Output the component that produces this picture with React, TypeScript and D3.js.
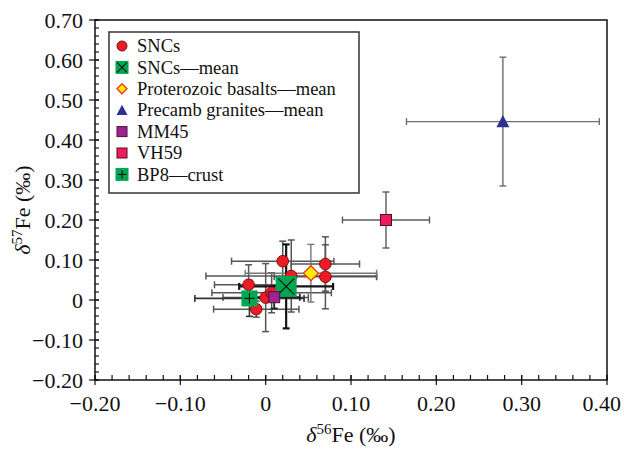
import React from "react";
import * as d3 from "d3";

// axis ticks
const xTicks = [-0.2, -0.1, 0, 0.1, 0.2, 0.3, 0.4];
const yTicks = [-0.2, -0.1, 0, 0.1, 0.2, 0.3, 0.4, 0.5, 0.6, 0.7];

// d56Fe (x), d57Fe (y), with 2 sigma errors (ex, ey)
const sncs = [
  { x: 0.02, y: 0.097, ex: 0.06, ey: 0.05 },
  { x: 0.07, y: 0.09, ex: 0.04, ey: 0.068 },
  { x: 0.07, y: 0.058, ex: 0.06, ey: 0.08 },
  { x: 0.03, y: 0.06, ex: 0.1, ey: 0.09 },
  { x: -0.02, y: 0.038, ex: 0.04, ey: 0.05 },
  { x: 0.0, y: 0.006, ex: 0.05, ey: 0.085 },
  { x: -0.011, y: -0.023, ex: 0.05, ey: 0.02 },
  { x: 0.007, y: 0.018, ex: 0.07, ey: 0.05 },
];
const sncMean = [{ x: 0.024, y: 0.034, ex: 0.055, ey: 0.105 }];
const proterozoic = [{ x: 0.053, y: 0.067, ex: 0.077, ey: 0.072 }];
const granites = [{ x: 0.278, y: 0.446, ex: 0.113, ey: 0.161 }];
const mm45 = [{ x: 0.01, y: 0.007, ex: 0.03, ey: 0.028 }];
const vh59 = [{ x: 0.141, y: 0.2, ex: 0.051, ey: 0.07 }];
const bp8 = [{ x: -0.019, y: 0.004, ex: 0.064, ey: 0.045 }];

const legendLabels = [
  "SNCs",
  "SNCs\u2014mean",
  "Proterozoic basalts\u2014mean",
  "Precamb granites\u2014mean",
  "MM45",
  "VH59",
  "BP8\u2014crust",
];
const legendKinds = ["circle", "xsquare", "diamond", "triangle", "mm45", "vh59", "plussquare"];

const width = 624;
const height = 450;
const left = 95;
const right = 607;
const top = 20;
const bottom = 380;
const font = '"Liberation Serif", "Times New Roman", Times, "DejaVu Serif", serif';

const fmt = (v) => {
  if (Math.abs(v) < 1e-9) return "0";
  return (v < 0 ? "\u2212" : "") + Math.abs(v).toFixed(2);
};

// one marker, drawn around 0,0
const Marker = ({ kind, cx, cy, big = false }) => {
  const t = `translate(${cx},${cy})`;
  if (kind === "circle") {
    const r = big ? 5.8 : 5;
    return <circle transform={t} r={r} fill="#ed1c24" stroke="#7a1010" strokeWidth={1} />;
  }
  if (kind === "xsquare") {
    const s = big ? 10.5 : 6.5;
    return (
      <g transform={t}>
        <rect x={-s} y={-s} width={2 * s} height={2 * s} fill="#00a651" />
        <line x1={-s * 0.75} y1={-s * 0.75} x2={s * 0.75} y2={s * 0.75} stroke="#111" strokeWidth={1.1} />
        <line x1={-s * 0.75} y1={s * 0.75} x2={s * 0.75} y2={-s * 0.75} stroke="#111" strokeWidth={1.1} />
      </g>
    );
  }
  if (kind === "diamond") {
    const s = big ? 7.5 : 5;
    return (
      <path transform={t} d={`M0,${-s}L${s},0L0,${s}L${-s},0Z`} fill="#ffed00" stroke="#f03a1e" strokeWidth={1.4} />
    );
  }
  if (kind === "triangle") {
    const s = big ? 6.5 : 5.5;
    return <path transform={t} d={`M0,${-s}L${s},${s * 0.85}L${-s},${s * 0.85}Z`} fill="#2e3192" />;
  }
  if (kind === "mm45") {
    const s = big ? 5.5 : 5;
    return <rect transform={t} x={-s} y={-s} width={2 * s} height={2 * s} fill="#a3238e" stroke="#4a1040" strokeWidth={1} />;
  }
  if (kind === "vh59") {
    const s = big ? 5.5 : 5;
    return <rect transform={t} x={-s} y={-s} width={2 * s} height={2 * s} fill="#ed1c5b" stroke="#5a0a20" strokeWidth={1} />;
  }
  // plus square
  const s = big ? 8 : 6.5;
  return (
    <g transform={t}>
      <rect x={-s} y={-s} width={2 * s} height={2 * s} fill="#00a651" />
      <line x1={-s * 0.65} y1={0} x2={s * 0.65} y2={0} stroke="#111" strokeWidth={1.1} />
      <line x1={0} y1={-s * 0.65} x2={0} y2={s * 0.65} stroke="#111" strokeWidth={1.1} />
    </g>
  );
};

const ErrorBars = ({ data, x, y, color, w }) => (
  <g stroke={color} strokeWidth={w} fill="none">
    {data.map((d, i) => {
      const x0 = x(d.x - d.ex);
      const x1 = x(d.x + d.ex);
      const y0 = y(d.y - d.ey);
      const y1 = y(d.y + d.ey);
      const cx = x(d.x);
      const cy = y(d.y);
      const c = 3.5;
      return (
        <g key={i}>
          <line x1={x0} x2={x1} y1={cy} y2={cy} />
          <line x1={x0} x2={x0} y1={cy - c} y2={cy + c} />
          <line x1={x1} x2={x1} y1={cy - c} y2={cy + c} />
          <line x1={cx} x2={cx} y1={y0} y2={y1} />
          <line x1={cx - c} x2={cx + c} y1={y0} y2={y0} />
          <line x1={cx - c} x2={cx + c} y1={y1} y2={y1} />
        </g>
      );
    })}
  </g>
);

export default function App() {
  const x = d3.scaleLinear().domain([-0.2, 0.4]).range([left, right]);
  const y = d3.scaleLinear().domain([-0.2, 0.7]).range([bottom, top]);

  const xMinor = d3.range(-0.2, 0.4001, 0.02);
  const yMinor = d3.range(-0.2, 0.7001, 0.02);

  const series = [
    { data: sncs, kind: "circle" },
    { data: sncMean, kind: "xsquare" },
    { data: proterozoic, kind: "diamond" },
    { data: granites, kind: "triangle" },
    { data: mm45, kind: "mm45" },
    { data: vh59, kind: "vh59" },
    { data: bp8, kind: "plussquare" },
  ];

  const legX = 109;
  const legY = 32;
  const legStep = 21.4;
  const lastTick = xTicks[xTicks.length - 1];

  return (
    <svg width={width} height={height} style={{ position: "absolute", left: 0, top: 0, fontFamily: font }}>
      <rect width={width} height={height} fill="#fff" />

      {/* error bars */}
      <ErrorBars data={granites} x={x} y={y} color="#6e6e6e" w={1.4} />
      <ErrorBars data={vh59} x={x} y={y} color="#5a5a5a" w={1.4} />
      <ErrorBars data={sncs} x={x} y={y} color="#555" w={1.5} />
      <ErrorBars data={proterozoic} x={x} y={y} color="#777" w={1.4} />
      <ErrorBars data={bp8} x={x} y={y} color="#333" w={1.6} />
      <ErrorBars data={mm45} x={x} y={y} color="#222" w={1.8} />
      <ErrorBars data={sncMean} x={x} y={y} color="#151515" w={2.2} />

      {/* markers */}
      {series.map((s, i) => (
        <g key={i}>
          {s.data.map((d, j) => (
            <Marker key={j} kind={s.kind} cx={x(d.x)} cy={y(d.y)} big />
          ))}
        </g>
      ))}

      {/* frame */}
      <rect x={left} y={top} width={right - left} height={bottom - top} fill="none" stroke="#111" strokeWidth={1.5} />

      {/* ticks */}
      <g stroke="#111" strokeWidth={1.2}>
        {xMinor.map((v, i) => (
          <line key={i} x1={x(v)} x2={x(v)} y1={bottom} y2={bottom - 5} />
        ))}
        {xTicks.map((v, i) => (
          <line key={i} x1={x(v)} x2={x(v)} y1={bottom + 5} y2={bottom - 5} />
        ))}
        {yMinor.map((v, i) => (
          <line key={i} x1={left} x2={left + 4} y1={y(v)} y2={y(v)} />
        ))}
        {yTicks.map((v, i) => (
          <line key={i} x1={left - 6} x2={left + 4} y1={y(v)} y2={y(v)} />
        ))}
      </g>
      <g fontSize={22} fill="#111">
        {xTicks.map((v, i) => (
          <text
            key={i}
            x={v === lastTick ? width - 3 : x(v)}
            y={411}
            textAnchor={v === lastTick ? "end" : "middle"}
          >
            {fmt(v)}
          </text>
        ))}
        {yTicks.map((v, i) => (
          <text key={i} x={left - 12} y={y(v)} dy="0.35em" textAnchor="end">
            {fmt(v)}
          </text>
        ))}
      </g>

      {/* axis titles */}
      <text x={(left + right) / 2} y={442} textAnchor="middle" fontSize={22} fill="#111">
        <tspan fontStyle="italic">δ</tspan>
        <tspan fontSize={15} dy={-8}>56</tspan>
        <tspan dy={8}>Fe (‰)</tspan>
      </text>
      <text transform={`translate(30,${(top + bottom) / 2 + 10}) rotate(-90)`} textAnchor="middle" fontSize={22} fill="#111">
        <tspan fontStyle="italic">δ</tspan>
        <tspan fontSize={15} dy={-8}>57</tspan>
        <tspan dy={8}>Fe (‰)</tspan>
      </text>

      {/* legend */}
      <rect x={legX} y={legY} width={250} height={161} fill="#fff" stroke="#333" strokeWidth={1.5} />
      {legendLabels.map((lab, i) => {
        const cy = legY + 14 + i * legStep;
        return (
          <g key={i}>
            <Marker kind={legendKinds[i]} cx={legX + 13} cy={cy} />
            <text x={legX + 28} y={cy} dy="0.33em" fontSize={18.5} fill="#111">
              {lab}
            </text>
          </g>
        );
      })}
    </svg>
  );
}
